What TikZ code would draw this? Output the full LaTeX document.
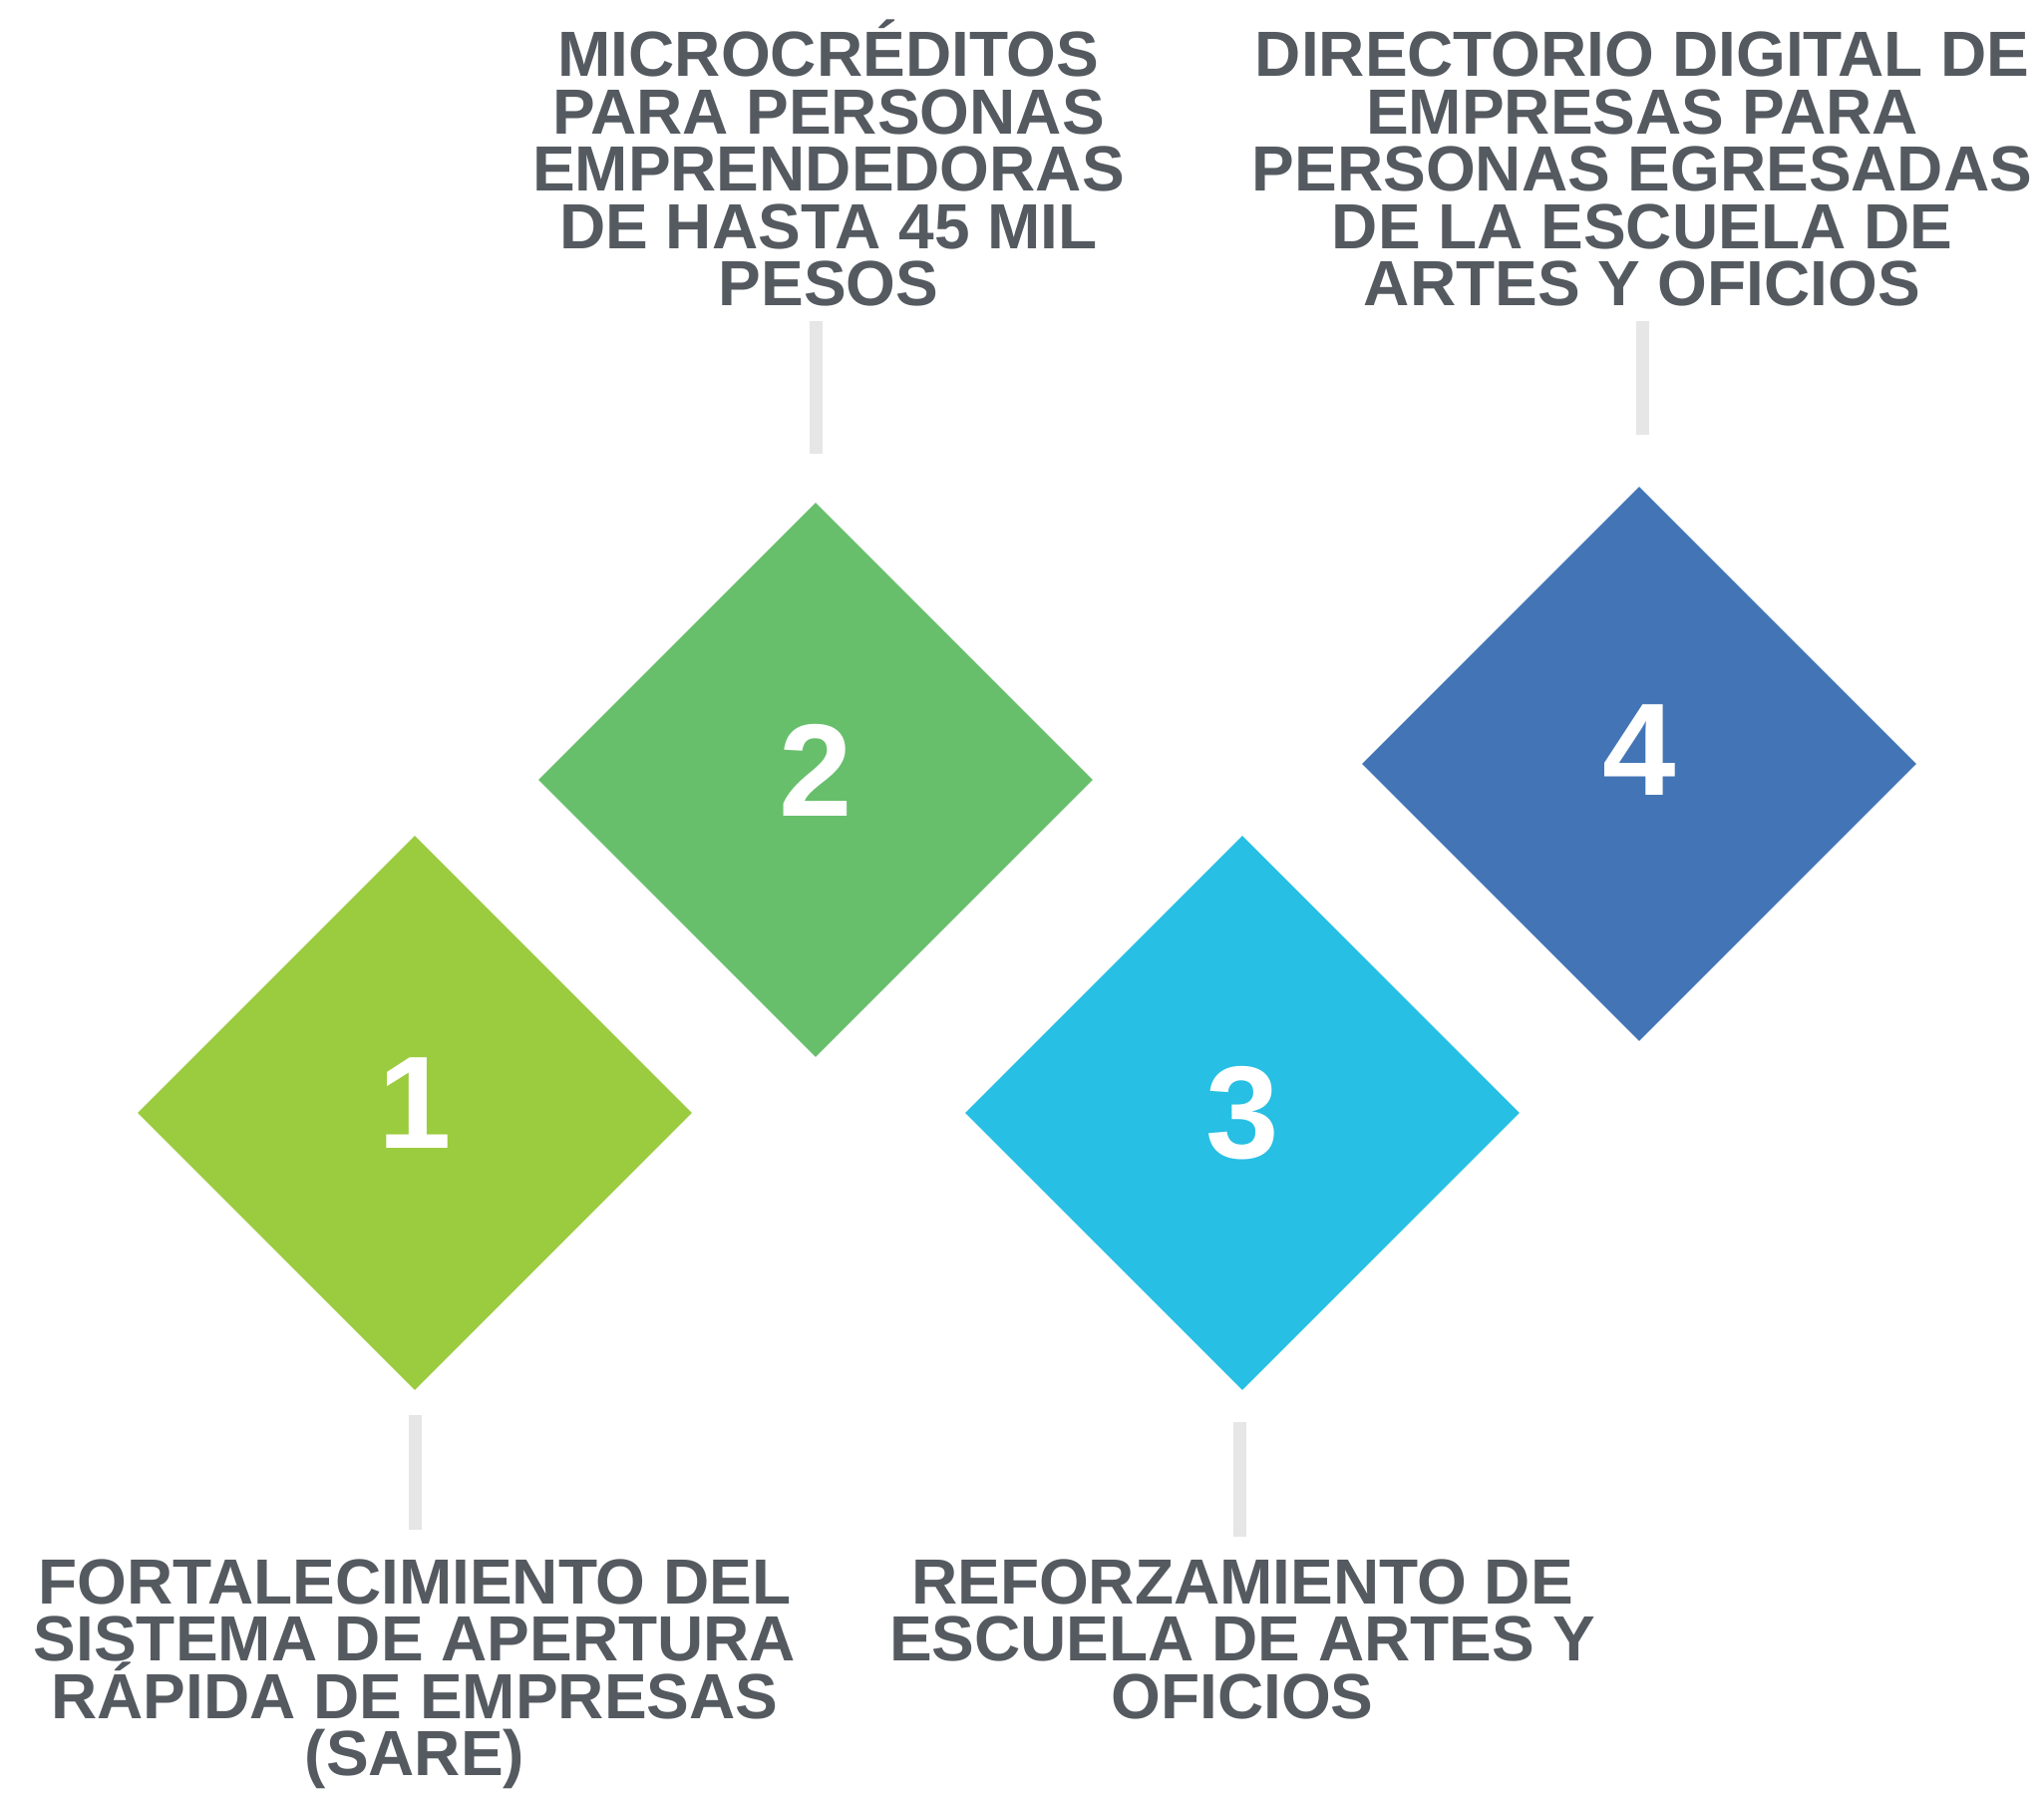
\documentclass[tikz,border=0pt]{standalone}
\usepackage{fontspec}
\setmainfont{Liberation Sans}
\usetikzlibrary{shapes.geometric}
\definecolor{lima}{HTML}{9BCB3E}
\definecolor{verde}{HTML}{67BF6B}
\definecolor{cielo}{HTML}{27BFE3}
\definecolor{azul}{HTML}{4375B6}
\definecolor{txtgray}{HTML}{545A60}
\definecolor{tickgray}{HTML}{E6E6E6}
\newcommand\lblfont{\fontsize{32}{28.75}\selectfont\bfseries\lineskiplimit=-50pt\relax}
\begin{document}
\begin{tikzpicture}[x=0.5pt,y=-0.5pt,
 gem/.style={diamond,aspect=1,minimum width=278pt,minimum height=278pt,
 inner sep=0pt,text=white,font=\fontsize{66}{66}\selectfont\bfseries},
 lbl/.style={align=center,inner sep=0pt,text=txtgray,font=\lblfont},
 tick/.style={draw=tickgray,line width=6.5pt}]
\useasboundingbox (0,0) rectangle (2050,1801);
% diamonds
\node[gem,fill=lima,text depth=10pt] (d1) at (416,1116) {1};
\node[gem,fill=verde,text depth=10pt] (d2) at (818,782) {2};
\node[gem,fill=cielo] (d3) at (1246,1116) {3};
\node[gem,fill=azul,text depth=14pt] (d4) at (1644,766) {4};
% texts
\node[lbl,anchor=north] (t1) at (416,1563) {FORTALECIMIENTO DEL\\SISTEMA DE APERTURA\\R\'APIDA DE EMPRESAS\\(SARE)};
\node[lbl,anchor=south] (t2) at (831,308) {MICROCR\'EDITOS\\PARA PERSONAS\\EMPRENDEDORAS\\DE HASTA 45 MIL\\PESOS};
\node[lbl,anchor=north] (t3) at (1246,1563) {REFORZAMIENTO DE\\ESCUELA DE ARTES Y\\OFICIOS};
\node[lbl,anchor=south] (t4) at (1647,308) {DIRECTORIO DIGITAL DE\\EMPRESAS PARA\\PERSONAS EGRESADAS\\DE LA ESCUELA DE\\ARTES Y OFICIOS};
% ticks
\draw[tick,shorten <=12.5pt,shorten >=14.5pt] (d1.south) -- (d1.south |- t1.north);
\draw[tick,shorten <=24.5pt,shorten >=7pt] (d2.north) -- (d2.north |- t2.south);
\draw[tick,shorten <=16pt,shorten >=11pt] ([xshift=-1.5pt]d3.south) -- ([xshift=-1.5pt]d3.south |- t3.north);
\draw[tick,shorten <=26pt,shorten >=7pt] ([xshift=1.5pt]d4.north) -- ([xshift=1.5pt]d4.north |- t4.south);
\end{tikzpicture}
\end{document}
